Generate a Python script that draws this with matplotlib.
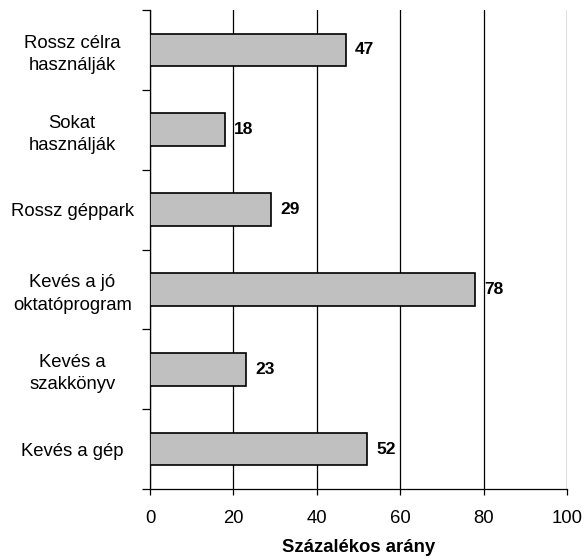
import matplotlib
matplotlib.use("Agg")
import matplotlib.pyplot as plt
import numpy as np

plt.rcParams['font.family'] = ['Liberation Sans', 'DejaVu Sans']

categories = ["Rossz célra\nhasználják", "Sokat\nhasználják", "Rossz géppark",
              "Kevés a jó\noktatóprogram", "Kevés a\nszakkönyv", "Kevés a gép"]
values = [47, 18, 29, 78, 23, 52]
xticks = [0, 20, 40, 60, 80, 100]

fig = plt.figure(figsize=(5.84, 5.57), dpi=100)
ax = fig.add_axes([150/584, 1-489/557, 417/584, 479/557])

n = len(categories)
y = np.arange(n)[::-1]
ax.barh(y, values, height=0.41, color='#c0c0c0', edgecolor='black', linewidth=1.2, zorder=3)
for yi, v in zip(y, values):
    ax.text(v + 2.2, yi, str(v), va='center', ha='left', fontsize=12.5, fontweight='bold')

ax.set_xlim(0, 100)
ax.set_ylim(-0.5, n - 0.5)
ax.set_xticks(xticks)
ax.set_xticklabels([str(t) for t in xticks], fontsize=13.3)
ax.xaxis.grid(True, color='black', linewidth=0.9, zorder=0)
ax.set_yticks(y)
ax.set_yticklabels(categories, fontsize=13.3, linespacing=1.4, ha='center')
ax.set_yticks(np.arange(-0.5, n, 1), minor=True)
ax.tick_params(axis='y', which='major', length=0, pad=56)
ax.tick_params(axis='y', which='minor', length=6, width=0.9, direction='out')
ax.tick_params(axis='x', length=4, width=0.9, direction='out', pad=11)
for s in ['top', 'right']:
    ax.spines[s].set_visible(False)
ax.spines['left'].set_linewidth(0.9)
ax.spines['bottom'].set_linewidth(0.9)
ax.set_xlabel("Százalékos arány", fontsize=13.3, fontweight='bold', labelpad=9)

fig.savefig("out.png", dpi=100)
